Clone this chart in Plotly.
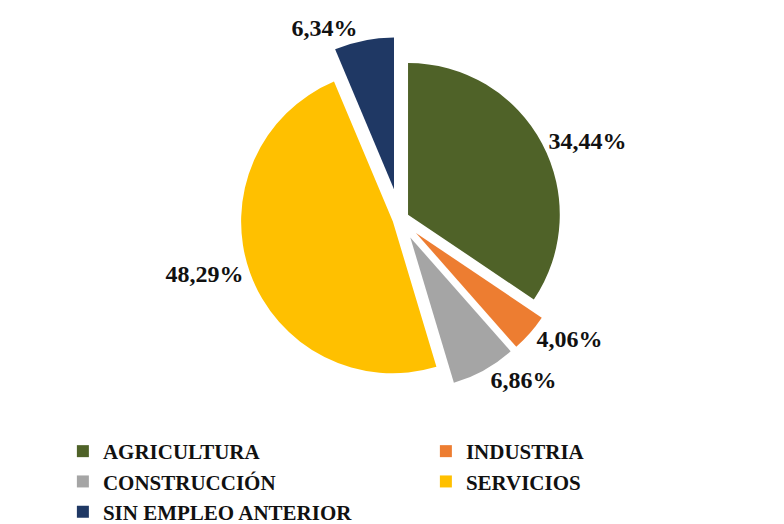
import plotly.graph_objects as go

categories = ["AGRICULTURA", "INDUSTRIA", "CONSTRUCCIÓN", "SERVICIOS", "SIN EMPLEO ANTERIOR"]
values = [34.44, 4.06, 6.86, 48.29, 6.34]
colors = ["#4F6228", "#ED7D31", "#A5A5A5", "#FFC000", "#1F3864"]
pulls = [0.06, 0.14, 0.14, 0.05, 0.2]

labels_txt = [f"{v:.2f}".replace(".", ",") + "%" for v in values]

fig = go.Figure(go.Pie(
    labels=categories,
    values=values,
    text=labels_txt,
    textinfo="text",
    textposition="outside",
    sort=False,
    direction="clockwise",
    rotation=0,
    pull=pulls,
    marker=dict(colors=colors, line=dict(color="white", width=0)),
    textfont=dict(family="Liberation Serif", size=24, color="#111111", weight="bold"),
    hoverinfo="label+text",
    domain=dict(x=[0.0, 1.0], y=[0.25, 0.945]),
))

fig.update_layout(
    width=784, height=524,
    paper_bgcolor="white",
    plot_bgcolor="white",
    margin=dict(l=0, r=0, t=0, b=0, autoexpand=False),
    font=dict(family="Liberation Serif"),
    legend=dict(
        orientation="h",
        x=0.07, y=0.0, xanchor="left", yanchor="bottom",
        entrywidth=318, entrywidthmode="pixels",
        font=dict(family="Liberation Serif", size=21, color="#111111", weight="bold"),
        traceorder="normal",
        itemsizing="constant",
        tracegroupgap=0,
    ),
)

fig.write_html("out.html")
